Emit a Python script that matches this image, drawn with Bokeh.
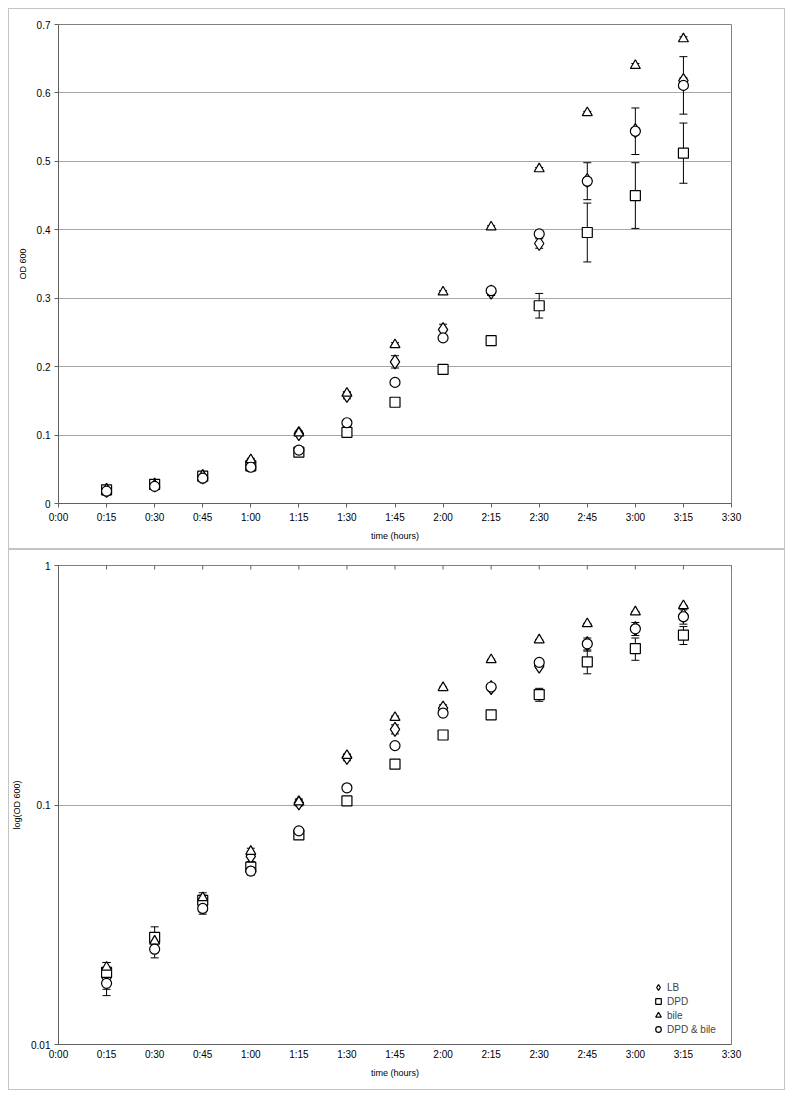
import math
from bokeh.plotting import figure
from bokeh.models import (ColumnDataSource, FixedTicker, Whisker, TeeHead, Legend,
                          LegendItem, Range1d)
from bokeh.layouts import column
from bokeh.embed import file_html
from bokeh.resources import INLINE

# ---------------- data ----------------
hours = [0.25, 0.5, 0.75, 1.0, 1.25, 1.5, 1.75, 2.0, 2.25, 2.5, 2.75, 3.0, 3.25]
tick_values = [0, 0.25, 0.5, 0.75, 1.0, 1.25, 1.5, 1.75, 2.0, 2.25, 2.5, 2.75, 3.0, 3.25, 3.5]
tick_labels = ["0:00", "0:15", "0:30", "0:45", "1:00", "1:15", "1:30", "1:45",
               "2:00", "2:15", "2:30", "2:45", "3:00", "3:15", "3:30"]

lb = [0.019, 0.027, 0.039, 0.061, 0.102, 0.158, 0.207, 0.254, 0.309, 0.380, 0.472, 0.545, 0.618]
lb_err = [0.002, 0.002, 0.002, 0.003, 0.003, 0.005, 0.009, 0.008, 0.005, 0.007, 0.004, 0.004, 0.004]

dpd = [0.020, 0.028, 0.040, 0.055, 0.075, 0.104, 0.148, 0.196, 0.238, 0.289, 0.396, 0.450, 0.512]
dpd_err = [0.002, 0.003, 0.002, 0.003, 0.003, 0.003, 0.004, 0.007, 0.006, 0.018, 0.043, 0.048, 0.044]

bile = [0.021, 0.027, 0.041, 0.064, 0.103, 0.161, 0.232, 0.309, 0.404, 0.489, 0.571, 0.640, 0.679]
bile_err = [0.001, 0.002, 0.002, 0.002, 0.003, 0.002, 0.003, 0.002, 0.002, 0.002, 0.002, 0.003, 0.003]

dpd_bile = [0.018, 0.025, 0.037, 0.053, 0.078, 0.118, 0.177, 0.242, 0.311, 0.394, 0.471, 0.544, 0.611]
dpd_bile_err = [0.002, 0.002, 0.002, 0.002, 0.002, 0.002, 0.003, 0.004, 0.004, 0.004, 0.027, 0.034, 0.042]

series = [
    ("LB", "diamond", 14, lb, lb_err),
    ("DPD", "square", 10, dpd, dpd_err),
    ("bile", "triangle", 10, bile, bile_err),
    ("DPD & bile", "circle", 10, dpd_bile, dpd_bile_err),
]

FONT = "Liberation Sans"
GRID = "#a6a6a6"
FRAME = "#808080"
AXIS = "#606060"
BORDER = "1px solid #c4c4c4"


def make_fig(log):
    kw = dict(y_axis_type="log", y_range=Range1d(0.01, 1)) if log else dict(y_range=Range1d(0, 0.7))
    p = figure(width=777, height=541, x_range=Range1d(0, 3.5),
               output_backend="svg", toolbar_location=None,
               min_border_left=46, min_border_right=55,
               min_border_top=15, min_border_bottom=47, **kw)
    p.styles = {"border": BORDER}
    p.outline_line_color = FRAME
    p.outline_line_width = 1
    p.background_fill_color = "white"
    p.border_fill_color = "white"
    p.xgrid.visible = False
    p.ygrid.grid_line_color = GRID
    p.ygrid.grid_line_width = 1

    xa = p.xaxis[0]
    xa.ticker = FixedTicker(ticks=tick_values)
    xa.major_label_overrides = {v: l for v, l in zip(tick_values, tick_labels)}
    xa.axis_label = "time (hours)"
    ya = p.yaxis[0]
    ya.axis_label = "log(OD 600)" if log else "OD 600"
    if log:
        ya.ticker = FixedTicker(ticks=[0.01, 0.1, 1], minor_ticks=[])
        ya.major_label_overrides = {0.01: "0.01", 0.1: "0.1", 1: "1"}
    else:
        ya.ticker = FixedTicker(ticks=[0, 0.1, 0.2, 0.3, 0.4, 0.5, 0.6, 0.7], minor_ticks=[])
        ya.major_label_overrides = {0: "0"}

    for ax in (xa, ya):
        ax.axis_line_color = AXIS
        ax.major_tick_line_color = AXIS
        ax.minor_tick_line_color = None
        ax.major_tick_in = 0
        ax.major_tick_out = 4
        ax.major_label_text_font = FONT
        ax.major_label_text_font_size = "10px"
        ax.major_label_text_color = "black"
        ax.axis_label_text_font = FONT
        ax.axis_label_text_font_size = "9px"
        ax.axis_label_text_font_style = "normal"
        ax.axis_label_text_color = "black"
        ax.major_label_standoff = 4
    ya.axis_label_standoff = 6
    xa.axis_label_standoff = 5

    if log:
        # x ticks sit on the top edge (axis crosses at 1), pointing inward
        xa.major_tick_out = 0
        p.scatter(x=tick_values, y=[1] * len(tick_values), marker="dash",
                  angle=math.pi / 2, size=8, line_color=AXIS, line_width=1)

    items = []
    for name, marker, size, vals, errs in series:
        src = ColumnDataSource(dict(
            x=hours, y=vals,
            upper=[v + e for v, e in zip(vals, errs)],
            lower=[v - e for v, e in zip(vals, errs)],
        ))
        r = p.scatter("x", "y", source=src, marker=marker, size=size,
                      fill_color="white", line_color="black", line_width=1.2)
        items.append(LegendItem(label=name, renderers=[r]))
        w = Whisker(source=src, base="x", upper="upper", lower="lower",
                    line_color="black", line_width=1,
                    upper_head=TeeHead(size=8, line_color="black", line_width=1),
                    lower_head=TeeHead(size=8, line_color="black", line_width=1))
        p.add_layout(w)

    if log:
        leg = Legend(items=items, location=(593, 8), orientation="vertical")
        leg.label_text_font = FONT
        leg.label_text_font_size = "10px"
        leg.label_height = 14
        leg.glyph_height = 14
        leg.glyph_width = 14
        leg.label_standoff = 2
        leg.spacing = 0
        leg.padding = 0
        leg.margin = 0
        leg.border_line_color = None
        leg.background_fill_alpha = 0
        p.add_layout(leg, "center")
    return p


p1 = make_fig(False)
p2 = make_fig(True)
layout = column(p1, p2, spacing=0, margin=(8, 0, 0, 8))

open("out.html", "w").write(file_html(layout, INLINE))
